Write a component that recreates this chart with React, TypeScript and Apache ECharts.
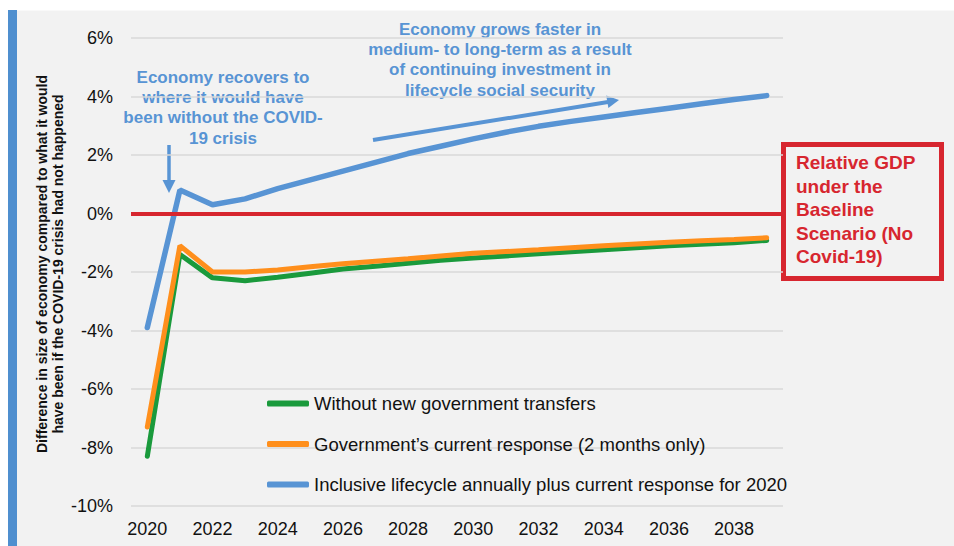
import React, { useEffect, useRef } from "react";
import * as echarts from "echarts";

const years = ["2020","2021","2022","2023","2024","2025","2026","2027","2028","2029","2030","2031","2032","2033","2034","2035","2036","2037","2038","2039"];
const withoutTransfers = [-8.3,-1.4,-2.2,-2.3,-2.18,-2.04,-1.9,-1.8,-1.7,-1.6,-1.52,-1.45,-1.38,-1.31,-1.24,-1.17,-1.1,-1.05,-1.0,-0.92];
const currentResponse = [-7.3,-1.1,-2.0,-2.0,-1.93,-1.82,-1.72,-1.63,-1.55,-1.45,-1.36,-1.3,-1.24,-1.17,-1.1,-1.04,-0.98,-0.93,-0.89,-0.83];
const inclusiveLifecycle = [-3.9,0.8,0.3,0.5,0.85,1.15,1.45,1.75,2.05,2.3,2.55,2.78,2.98,3.15,3.3,3.45,3.6,3.75,3.9,4.03];
const seriesNames = [
  "Without new government transfers",
  "Government\u2019s current response (2 months only)",
  "Inclusive lifecycle annually plus current response for 2020",
];
const yTicks = { min: -10, max: 6, interval: 2 };
const yTitle = "Difference in size of economy compared to what it would\nhave been if the COVID-19 crisis had not happened";
const note1 = "Economy recovers to\nwhere it would have\nbeen without the COVID-\n19 crisis";
const note2 = "Economy grows faster in\nmedium- to long-term as a result\nof continuing investment in\nlifecycle social security";
const boxText = "Relative GDP\nunder the\nBaseline\nScenario (No\nCovid-19)";

const GREEN = "#1a9a3c";
const ORANGE = "#ff8f1c";
const BLUE = "#5894d4";
const RED = "#d7262f";
const FONT = "'Liberation Sans', Arial, sans-serif";

export default function App() {
  const ref = useRef<HTMLDivElement>(null);
  useEffect(() => {
    document.body.style.margin = "0";
    const chart = echarts.init(ref.current!, null, { renderer: "svg" });
    chart.setOption({
      animation: false,
      backgroundColor: "#f2f2f2",
      textStyle: { fontFamily: FONT },
      grid: { left: 131, right: 171, top: 38, bottom: 40 },
      legend: {
        orient: "vertical",
        left: 267,
        top: 394,
        padding: 0,
        itemGap: 21.5,
        itemWidth: 42,
        itemHeight: 6,
        icon: "roundRect",
        textStyle: { fontSize: 18.5, color: "#111", fontFamily: FONT },
        data: seriesNames,
      },
      xAxis: {
        type: "category",
        data: years,
        boundaryGap: true,
        axisLine: { show: false },
        axisTick: { show: false },
        axisLabel: { interval: 1, fontSize: 18, color: "#111", margin: 14, fontFamily: FONT },
      },
      yAxis: {
        type: "value",
        min: yTicks.min,
        max: yTicks.max,
        interval: yTicks.interval,
        axisLine: { show: false },
        axisTick: { show: false },
        axisLabel: { formatter: "{value}%", fontSize: 18, color: "#111", margin: 18, fontFamily: FONT },
        splitLine: { lineStyle: { color: "#d9d9d9", width: 1.5 } },
      },
      series: [
        {
          name: seriesNames[0],
          type: "line",
          data: withoutTransfers,
          symbol: "none",
          itemStyle: { color: GREEN },
          lineStyle: { color: GREEN, width: 5, cap: "round" },
          markLine: {
            silent: true,
            symbol: "none",
            label: { show: false },
            lineStyle: { color: RED, width: 4, type: "solid" },
            data: [{ yAxis: 0 }],
          },
        },
        {
          name: seriesNames[1],
          type: "line",
          data: currentResponse,
          symbol: "none",
          itemStyle: { color: ORANGE },
          lineStyle: { color: ORANGE, width: 5, cap: "round" },
        },
        {
          name: seriesNames[2],
          type: "line",
          data: inclusiveLifecycle,
          symbol: "none",
          itemStyle: { color: BLUE },
          lineStyle: { color: BLUE, width: 5.5, cap: "round" },
        },
      ],
      graphic: [
        { type: "rect", shape: { x: 0, y: 0, width: 954, height: 10.5 }, style: { fill: "#ffffff" }, silent: true },
        { type: "rect", shape: { x: 0, y: 0, width: 8, height: 546 }, style: { fill: "#ffffff" }, silent: true },
        { type: "rect", shape: { x: 8, y: 10, width: 9, height: 536 }, style: { fill: "#4f8fcf" }, silent: true },
        {
          type: "text",
          x: 50,
          y: 264,
          rotation: Math.PI / 2,
          style: { text: yTitle, fontSize: 14, fontWeight: "bold", fill: "#111", align: "center", verticalAlign: "middle", lineHeight: 16, fontFamily: FONT },
        },
        {
          type: "text",
          x: 223,
          y: 67,
          style: { text: note1, fontSize: 17, fontWeight: "bold", fill: BLUE, align: "center", verticalAlign: "top", lineHeight: 20.3, fontFamily: FONT },
        },
        {
          type: "text",
          x: 500,
          y: 19,
          style: { text: note2, fontSize: 17, fontWeight: "bold", fill: BLUE, align: "center", verticalAlign: "top", lineHeight: 20.3, fontFamily: FONT },
        },
        { type: "line", shape: { x1: 169, y1: 145, x2: 169, y2: 182 }, style: { stroke: BLUE, lineWidth: 3.5 } },
        { type: "polygon", shape: { points: [[162.5, 180], [175.5, 180], [169, 193]] }, style: { fill: BLUE } },
        { type: "line", shape: { x1: 373, y1: 140, x2: 608, y2: 102 }, style: { stroke: BLUE, lineWidth: 4 } },
        { type: "polygon", shape: { points: [[619, 100], [608.4, 108], [606.2, 95.5]] }, style: { fill: BLUE } },
        {
          type: "rect",
          shape: { x: 783.5, y: 144.5, width: 158, height: 134 },
          style: { fill: "#f2f2f2", stroke: RED, lineWidth: 5 },
        },
        {
          type: "text",
          x: 796,
          y: 151,
          style: { text: boxText, fontSize: 19, fontWeight: "bold", fill: RED, align: "left", verticalAlign: "top", lineHeight: 23.5, fontFamily: FONT },
        },
      ],
    });
    return () => chart.dispose();
  }, []);
  return <div ref={ref} style={{ width: 954, height: 546 }} />;
}
